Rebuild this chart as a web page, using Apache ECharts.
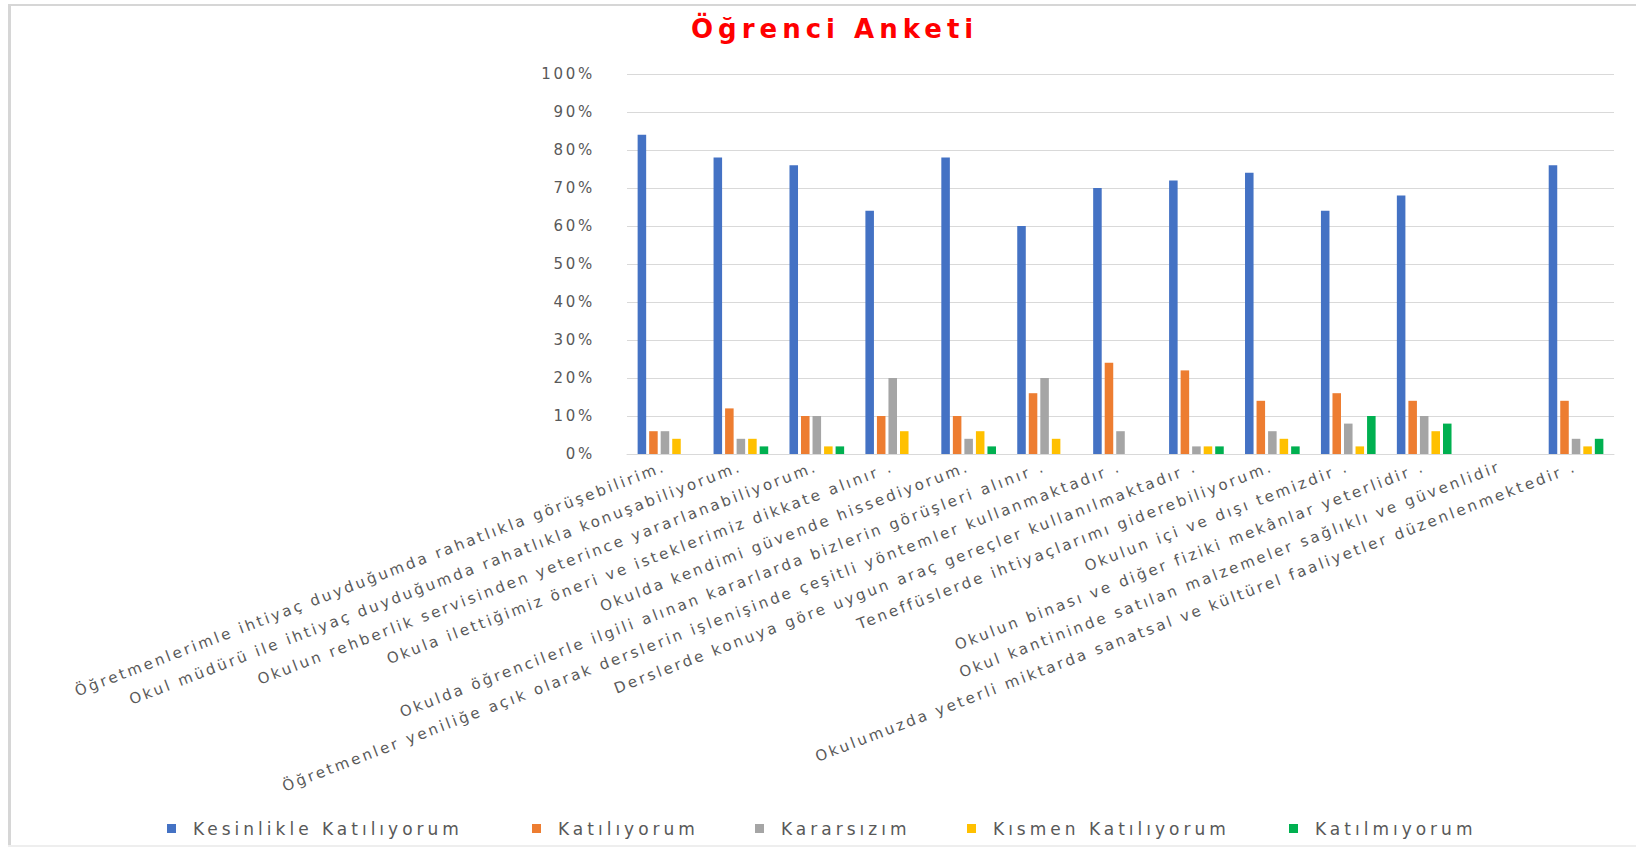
<!DOCTYPE html>
<html>
<head>
<meta charset="utf-8">
<script src="https://cdn.jsdelivr.net/npm/echarts@6/dist/echarts.min.js"></script>
<style>
  html, body { margin: 0; padding: 0; background: #ffffff; }
  #chart { width: 1638px; height: 847px; letter-spacing: 2.7px; }
  #chart text[fill="#FF0000"], #chart text[fill="#ff0000"] { letter-spacing: 5px; }
  #chart text[fill="#585858"] { letter-spacing: 4px; }
</style>
</head>
<body>
<div id="chart"></div>
<script>
// ---- Data ----
const categories = [
  'Öğretmenlerimle ihtiyaç duyduğumda rahatlıkla görüşebilirim.',
  'Okul müdürü ile ihtiyaç duyduğumda rahatlıkla konuşabiliyorum.',
  'Okulun rehberlik servisinden yeterince yararlanabiliyorum.',
  'Okula ilettiğimiz öneri ve isteklerimiz dikkate alınır .',
  'Okulda kendimi güvende hissediyorum.',
  'Okulda öğrencilerle ilgili alınan kararlarda bizlerin görüşleri alınır .',
  'Öğretmenler yeniliğe açık olarak derslerin işlenişinde çeşitli yöntemler kullanmaktadır .',
  'Derslerde konuya göre uygun araç gereçler kullanılmaktadır .',
  'Teneffüslerde ihtiyaçlarımı giderebiliyorum.',
  'Okulun içi ve dışı temizdir .',
  'Okulun binası ve diğer fiziki mekânlar yeterlidir .',
  'Okul kantininde satılan malzemeler sağlıklı ve güvenlidir',
  'Okulumuzda yeterli miktarda sanatsal ve kültürel faaliyetler düzenlenmektedir .'
];
const seriesNames = ['Kesinlikle Katılıyorum', 'Katılıyorum', 'Kararsızım', 'Kısmen Katılıyorum', 'Katılmıyorum'];
const kesinlikleKatiliyorum = [84, 78, 76, 64, 78, 60, 70, 72, 74, 64, 68, 0, 76];
const katiliyorum           = [6, 12, 10, 10, 10, 16, 24, 22, 14, 16, 14, 0, 14];
const kararsizim            = [6, 4, 10, 20, 4, 20, 6, 2, 6, 8, 10, 0, 4];
const kismenKatiliyorum     = [4, 4, 2, 6, 6, 4, 0, 2, 4, 2, 6, 0, 2];
const katilmiyorum          = [0, 2, 2, 0, 2, 0, 0, 2, 2, 10, 8, 0, 4];
const yTicks = [0, 10, 20, 30, 40, 50, 60, 70, 80, 90, 100];

// ---- Style ----
const colors = ['#4472C4', '#ED7D31', '#A5A5A5', '#FFC000', '#00B050'];
const legendLeft = [162, 527, 750, 962, 1284];
const FONT = 'DejaVu Sans';

const allValues = [kesinlikleKatiliyorum, katiliyorum, kararsizim, kismenKatiliyorum, katilmiyorum];

const chart = echarts.init(document.getElementById('chart'), null, { renderer: 'svg' });
chart.setOption({
  backgroundColor: '#ffffff',
  animation: false,
  color: colors,
  title: {
    text: 'Öğrenci Anketi',
    left: 686,
    top: 11,
    textStyle: { color: '#FF0000', fontFamily: FONT, fontWeight: 'bold', fontSize: 26 }
  },
  legend: seriesNames.map((n, i) => ({
    data: [n],
    left: legendLeft[i],
    top: 815,
    icon: 'rect',
    itemWidth: 9,
    itemHeight: 9,
    textStyle: { color: '#585858', fontFamily: FONT, fontSize: 17, padding: [0, 0, 0, 12] }
  })),
  grid: {
    left: 627, right: 24, top: 74, bottom: 393,
    containLabel: false,
    outerBoundsMode: 'none'
  },
  xAxis: {
    type: 'category',
    data: categories,
    axisLine: { show: true, lineStyle: { color: '#d9d9d9', width: 1 } },
    axisTick: { show: false },
    axisLabel: {
      interval: 0,
      rotate: 21,
      margin: 12,
      padding: [18, 0, 0, 0],
      color: '#595959',
      fontFamily: FONT,
      fontSize: 15
    }
  },
  yAxis: {
    type: 'value',
    min: yTicks[0],
    max: yTicks[yTicks.length - 1],
    interval: yTicks[1] - yTicks[0],
    axisLine: { show: false },
    axisTick: { show: false },
    splitLine: { show: true, lineStyle: { color: '#d9d9d9', width: 1 } },
    axisLabel: {
      formatter: '{value}%',
      margin: 32,
      color: '#595959',
      fontFamily: FONT,
      fontSize: 15
    }
  },
  series: seriesNames.map((n, i) => ({
    name: n,
    type: 'bar',
    data: allValues[i],
    barGap: '35%',
    barCategoryGap: '28%',
    itemStyle: { color: colors[i] }
  })),
  graphic: [
    { type: 'rect', shape: { x: 8, y: 4, width: 1628, height: 2 }, style: { fill: '#d6d6d6' }, silent: true },
    { type: 'rect', shape: { x: 8, y: 4, width: 3, height: 843 }, style: { fill: '#d6d6d6' }, silent: true },
    { type: 'rect', shape: { x: 8, y: 845, width: 1628, height: 2 }, style: { fill: '#eeeeee' }, silent: true }
  ]
});
</script>
</body>
</html>
